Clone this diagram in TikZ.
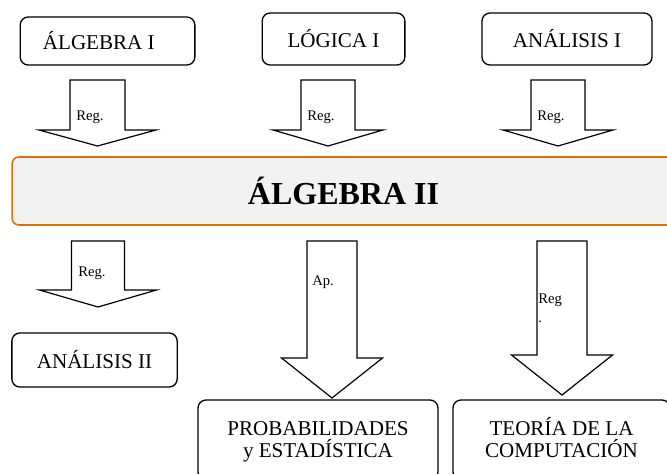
\documentclass[tikz,border=0pt]{standalone}
\usepackage{fontspec}
\setmainfont{Liberation Serif}
\usetikzlibrary{positioning}
\usetikzlibrary{calc}
\definecolor{naranja}{RGB}{228,108,10}
\definecolor{grisclaro}{RGB}{242,242,242}
\tikzset{%
  caja/.style = {rectangle,draw,solid,rounded corners=6pt,line width=1pt,
        align=center,font=\fontsize{15.8}{16.5}\selectfont},
  cajados/.style = {caja,text height=29pt,text depth=3.5pt},
  principal/.style = {rectangle,draw=naranja,fill=grisclaro,rounded corners=5pt,
        line width=1.2pt,font=\fontsize{24}{28}\selectfont\bfseries},
  flecha/.style = {draw,fill=white,line width=0.9pt,line join=miter},
  etiq/.style = {inner sep=0pt,anchor=west,font=\fontsize{11}{14.3}\selectfont}
}
\newcommand{\flechabloque}[6]{%
  \draw[flecha] (#1-#5,#2) -- (#1+#5,#2) -- (#1+#5,#3) -- (#1+#6,#3)
     -- (#1,#4) -- (#1-#6,#3) -- (#1-#5,#3) -- cycle;}
\begin{document}
\begin{tikzpicture}[x=0.75pt,y=-0.75pt]
\useasboundingbox (0,0) rectangle (667,474);
\clip (0,0) rectangle (667,474);
\flechabloque{97.5}{80}{130}{146}{27.5}{58.5}
\flechabloque{328}{80}{130}{146}{27}{55}
\flechabloque{558}{80}{130}{146}{27}{55}
\flechabloque{98}{241}{290}{307}{26.5}{58.5}
\flechabloque{332}{241}{358}{398}{25}{50.5}
\flechabloque{562}{241}{355}{395}{25}{50.5}
\node[caja,minimum width=131pt,minimum height=36pt] (alg1) at (107.5,41) {ÁLGEBRA I\hspace*{13pt}};
\node[caja,minimum width=107pt,minimum height=39pt] (log1) at (333.5,39) {LÓGICA I};
\node[caja,minimum width=127.5pt,minimum height=39pt] (ana1) at (567,39) {ANÁLISIS I};
\node[principal,minimum width=497pt,minimum height=51pt] (alg2) at (343.5,191) {ÁLGEBRA II};
\node[caja,minimum width=124pt,minimum height=40.5pt] (ana2) at (94.5,360) {ANÁLISIS II};
\node[cajados,minimum width=180pt,minimum height=60pt] (prob) at (318,440) {PROBABILIDADES\\y ESTADÍSTICA};
\node[cajados,minimum width=162.75pt,minimum height=60pt] (teo) at (561.5,440) {TEORÍA DE LA\\COMPUTACIÓN};
\node[etiq] (reg1) at (76,117) {Reg.};
\node[etiq] (reg2) at (307,117) {Reg.};
\node[etiq] (reg3) at (537,117) {Reg.};
\node[etiq] (reg4) at (78,273) {Reg.};
\node[etiq] (ap) at (312,282) {Ap.};
\node[etiq,anchor=north west,align=left] (reg6) at (538,294) {Reg\\.};
\end{tikzpicture}
\end{document}
